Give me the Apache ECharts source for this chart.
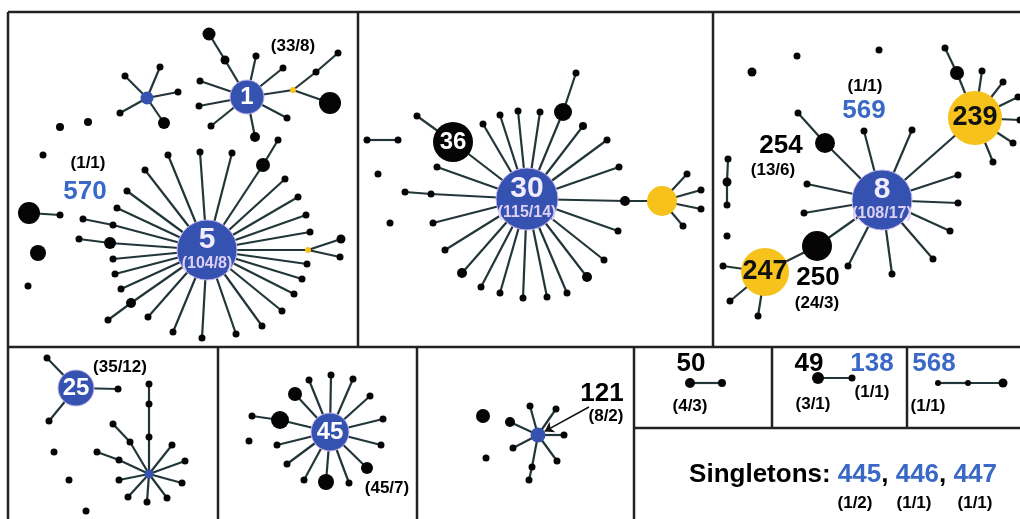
<!DOCTYPE html>
<html>
<head>
<meta charset="utf-8">
<script src="https://cdn.jsdelivr.net/npm/echarts@6/dist/echarts.min.js"></script>
<style>
  html, body { margin: 0; padding: 0; background: #fff; }
  #main { width: 1020px; height: 519px; }
</style>
</head>
<body>
<div id="main"></div>
<script>
// node = [x, y, diameter, colour, label, sublabel]; colour k=black b=blue y=yellow
// a path goes outward from the star centre, node by node

// ---- panel 1 (ST 1 / ST 5)
const hub1 = [247, 97, 34, 'b', '1'];
const hub1Paths = [
  [[225, 60, 9], [209, 34, 13]], [[256, 56, 7]], [[283, 68, 7]], [[293, 90, 6, 'y']],
  [[287, 118, 7]], [[255, 137, 10]], [[211, 126, 7]], [[199, 106, 7]], [[200, 81, 7]]
];
const yellow1 = [293, 90, 6, 'y'];
const yellow1Paths = [[[316, 72, 7], [338, 53, 7]], [[330, 103, 22]]];
const smallHubA = [147, 98, 13, 'b'];
const smallHubAPaths = [[[125, 76, 7]], [[160, 67, 7]], [[178, 92, 7]], [[164, 123, 12]], [[120, 113, 7]]];
const hub5 = [207, 250, 60, 'b', '5', '(104/8)'];
const hub5Paths = [
  [[127, 191, 7]], [[145, 170, 7]], [[168, 155, 7]], [[200, 152, 7]], [[232, 153, 7]],
  [[263, 165, 14], [278, 140, 7]], [[285, 179, 7]], [[298, 197, 7]], [[306, 215, 7]], [[310, 232, 7]],
  [[308, 250, 6, 'y']], [[307, 264, 7]], [[302, 279, 7]], [[294, 294, 7]], [[282, 311, 7]],
  [[262, 326, 7]], [[236, 334, 7]], [[202, 338, 7]], [[173, 332, 7]], [[148, 317, 7]],
  [[131, 303, 10], [108, 320, 7]], [[121, 289, 7]], [[115, 274, 7]], [[113, 259, 7]],
  [[110, 243, 12], [79, 239, 7]], [[113, 225, 7], [83, 219, 7]], [[117, 208, 7]]
];
const yellow5 = [308, 250, 6, 'y'];
const yellow5Paths = [[[341, 239, 9]], [[340, 257, 7]]];
const pairP1 = [29, 213, 22];
const pairP1Paths = [[[60, 215, 7]]];
const loneP1 = [[60, 127, 8], [88, 122, 8], [43, 155, 7], [38, 253, 16], [28, 286, 7]];

// ---- panel 2 (ST 30)
const hub30 = [527, 199, 62, 'b', '30', '(115/14)'];
const hub30Paths = [
  [[453, 142, 40, 'k', '36'], [417, 116, 7]], [[483, 124, 7]], [[500, 115, 7]], [[518, 111, 7]],
  [[540, 112, 7]], [[563, 112, 18], [576, 73, 7]], [[583, 126, 8]], [[607, 140, 7]], [[619, 167, 7]],
  [[625, 201, 10], [662, 201, 30, 'y']], [[618, 231, 7]], [[604, 260, 7]], [[587, 277, 10]],
  [[567, 293, 7]], [[547, 297, 7]], [[523, 298, 7]], [[500, 293, 7]], [[481, 287, 7]],
  [[462, 273, 10]], [[445, 250, 7]], [[433, 223, 7]], [[431, 194, 7], [405, 192, 7]], [[437, 167, 7]]
];
const yellow30 = [662, 201, 30, 'y'];
const yellow30Paths = [[[687, 174, 7]], [[701, 190, 7]], [[701, 209, 7]], [[683, 226, 7]]];
const pairP2 = [367, 140, 7];
const pairP2Paths = [[[398, 140, 7]]];
const loneP2 = [[378, 174, 7], [390, 223, 7]];

// ---- panel 3 (ST 8)
const hub8 = [882, 200, 60, 'b', '8', '(108/17)'];
const hub8Paths = [
  [[817, 246, 30], [765, 272, 48, 'y', '247']], [[825, 143, 20], [798, 113, 7]], [[864, 131, 7]],
  [[912, 130, 7]], [[975, 118, 54, 'y', '239']], [[958, 175, 7]], [[958, 203, 7]], [[950, 231, 7]],
  [[933, 259, 7]], [[892, 274, 7]], [[848, 266, 7]], [[807, 184, 7]], [[804, 213, 7]]
];
const yellow239 = [975, 118, 54, 'y', '239'];
const yellow239Paths = [
  [[957, 73, 14], [945, 48, 7]], [[982, 71, 7]], [[1003, 82, 7]], [[1018, 97, 7]],
  [[1020, 120, 7]], [[1013, 143, 7]], [[993, 162, 7]]
];
const yellow247 = [765, 272, 48, 'y', '247'];
const yellow247Paths = [[[723, 266, 7]], [[730, 301, 7]], [[758, 316, 7]]];
const chainP3 = [728, 159, 7];
const chainP3Paths = [[[727, 182, 9], [727, 205, 7]]];
const loneP3 = [[752, 72, 9], [797, 56, 7], [879, 50, 7], [727, 236, 7]];

// ---- bottom row
const hub25 = [76, 388, 36, 'b', '25'];
const hub25Paths = [[[47, 358, 7]], [[118, 389, 7]], [[49, 421, 7]]];
const smallHubB = [149, 474, 9, 'b'];
const smallHubBPaths = [
  [[149, 437, 7], [149, 404, 7], [149, 384, 7]], [[130, 442, 7], [113, 424, 7]],
  [[119, 460, 7], [97, 452, 7]], [[172, 445, 7]], [[185, 461, 7]], [[182, 483, 7]],
  [[167, 498, 7]], [[147, 502, 7]], [[128, 497, 7]], [[119, 480, 7]]
];
const loneB1 = [[54, 452, 7], [69, 480, 7], [86, 511, 7]];

const hub45 = [330, 432, 38, 'b', '45'];
const hub45Paths = [
  [[280, 420, 18], [252, 416, 7]], [[295, 394, 14]], [[309, 380, 7]], [[331, 375, 7]],
  [[353, 379, 7]], [[370, 396, 7]], [[383, 419, 7]], [[381, 445, 7]], [[367, 468, 12]],
  [[349, 483, 7]], [[326, 482, 16]], [[304, 480, 7]], [[287, 464, 7]], [[277, 445, 7]]
];
const loneB2 = [[249, 441, 7]];

const hub121 = [538, 435, 15, 'b'];
const hub121Paths = [
  [[530, 406, 7]], [[556, 409, 7]], [[564, 435, 7]], [[557, 461, 7]],
  [[532, 467, 7], [529, 480, 7]], [[513, 448, 7]], [[510, 422, 10]]
];
const loneB3 = [[483, 416, 14], [486, 458, 7]];
const arrow121 = [[589, 407, 0], [538, 435]];

const pair50 = [690, 383, 10];
const pair50Paths = [[[722, 383, 8]]];
const pair49 = [818, 378, 12];
const pair49Paths = [[[852, 378, 7]]];
const chain568 = [938, 383, 6];
const chain568Paths = [[[968, 383, 6], [1003, 383, 9]]];

// ---- text: [text, x, y, kind]
const notes = [
  ['(33/8)', 293, 46, 'sub'], ['(1/1)', 88, 163, 'sub'], ['570', 85, 192, 'blue'],
  ['254', 781, 146, 'num'], ['(13/6)', 773, 170, 'sub'], ['(1/1)', 865, 86, 'sub'],
  ['569', 864, 111, 'blue'], ['250', 818, 278, 'num'], ['(24/3)', 817, 303, 'sub'],
  ['(35/12)', 120, 367, 'sub'], ['(45/7)', 387, 488, 'sub'], ['121', 602, 394, 'num'],
  ['(8/2)', 606, 416, 'sub'], ['50', 691, 364, 'num'], ['(4/3)', 690, 406, 'sub'],
  ['49', 809, 364, 'num'], ['138', 872, 364, 'blue'], ['(3/1)', 813, 404, 'sub'],
  ['(1/1)', 872, 392, 'sub'], ['568', 934, 364, 'blue'], ['(1/1)', 928, 406, 'sub'],
  ['(1/2)', 855, 503, 'sub'], ['(1/1)', 914, 503, 'sub'], ['(1/1)', 975, 503, 'sub']
];
const singletons = ['445', '446', '447'];

const C = { b: '#3552b0', k: '#050505', y: '#f7c21b' };
const FONT = 'Liberation Sans, Arial, sans-serif';
const nodes = [], links = [], index = {};

function hubLabel(t, s, c, d) {
  const fg = c === 'y' ? '#111' : '#fff';
  if (s) {
    return {
      show: true, position: 'inside', fontFamily: FONT,
      formatter: '{a|' + t + '}\n{s|' + s + '}',
      rich: {
        a: { color: '#f2ecff', fontSize: 30, fontWeight: 'bold', fontFamily: FONT, lineHeight: 28 },
        s: { color: '#ddd0f4', fontSize: 16, fontWeight: 'bold', fontFamily: FONT, lineHeight: 20 }
      }
    };
  }
  return {
    show: true, position: 'inside', formatter: t, color: fg, fontFamily: FONT,
    fontWeight: 'bold', fontSize: d > 45 ? 27 : 24
  };
}

function node(p) {
  const key = p[0] + ',' + p[1];
  if (index[key] != null) return index[key];
  const [x, y, d = 7, c = 'k', t, s] = p;
  const item = { value: [x, y], symbolSize: d, itemStyle: { color: C[c] } };
  if (c === 'b' && d > 20) { item.itemStyle.borderColor = '#c9b6ee'; item.itemStyle.borderWidth = 1; }
  if (t) item.label = hubLabel(t, s, c, d);
  index[key] = nodes.length;
  nodes.push(item);
  return index[key];
}

function star(center, paths) {
  const c = node(center);
  (paths || []).forEach(path => {
    let prev = c;
    path.forEach(p => {
      const n = node(p);
      links.push({ source: prev, target: n });
      prev = n;
    });
  });
}

star(hub1, hub1Paths); star(yellow1, yellow1Paths); star(smallHubA, smallHubAPaths);
star(hub5, hub5Paths); star(yellow5, yellow5Paths); star(pairP1, pairP1Paths);
loneP1.forEach(p => node(p));
star(hub30, hub30Paths); star(yellow30, yellow30Paths); star(pairP2, pairP2Paths);
loneP2.forEach(p => node(p));
star(hub8, hub8Paths); star(yellow239, yellow239Paths); star(yellow247, yellow247Paths);
star(chainP3, chainP3Paths); loneP3.forEach(p => node(p));
star(hub25, hub25Paths); star(smallHubB, smallHubBPaths); loneB1.forEach(p => node(p));
star(hub45, hub45Paths); loneB2.forEach(p => node(p));
star(hub121, hub121Paths); loneB3.forEach(p => node(p));
star(pair50, pair50Paths); star(pair49, pair49Paths); star(chain568, chain568Paths);

// arrow pointing at ST 121
const a0 = node(arrow121[0]), a1 = node(arrow121[1]);
links.push({ source: a0, target: a1, symbol: ['none', 'arrow'], symbolSize: [0, 9],
  lineStyle: { width: 1.5, color: '#111' } });

const noteStyle = {
  sub: { fontSize: 17, color: '#000' },
  num: { fontSize: 26, color: '#000' },
  blue: { fontSize: 26, color: '#3a68c6' }
};
const noteData = notes.map(n => ({
  value: [n[1], n[2]],
  label: Object.assign({ formatter: n[0] }, noteStyle[n[3]])
}));
noteData.push({
  value: [843, 475],
  label: {
    formatter: '{k|Singletons: }' + singletons.map(s => '{b|' + s + '}').join('{k|, }'),
    rich: {
      k: { fontSize: 26, fontWeight: 'bold', color: '#000', fontFamily: FONT },
      b: { fontSize: 26, fontWeight: 'bold', color: '#3a68c6', fontFamily: FONT }
    }
  }
});

// panel frames
const frameLines = [
  [8, 12, 1020, 12], [8, 12, 8, 519], [8, 347, 1020, 347],
  [358, 12, 358, 347], [713, 12, 713, 347],
  [218, 347, 218, 519], [417, 347, 417, 519], [634, 347, 634, 519],
  [772, 347, 772, 428], [907, 347, 907, 428], [634, 428, 1020, 428]
];

const chart = echarts.init(document.getElementById('main'));
chart.setOption({
  animation: false,
  backgroundColor: '#fff',
  grid: { left: 0, right: 0, top: 0, bottom: 0 },
  xAxis: { type: 'value', min: 0, max: 1020, show: false },
  yAxis: { type: 'value', min: 0, max: 519, inverse: true, show: false },
  graphic: frameLines.map(l => ({
    type: 'line', z: 1,
    shape: { x1: l[0], y1: l[1], x2: l[2], y2: l[3] },
    style: { stroke: '#222', lineWidth: 2.5 }
  })),
  series: [
    {
      type: 'graph',
      coordinateSystem: 'cartesian2d',
      layout: 'none',
      z: 3,
      data: nodes,
      links: links,
      symbol: 'circle',
      edgeSymbol: ['none', 'none'],
      lineStyle: { color: '#22363a', width: 2.2, opacity: 1 },
      emphasis: { disabled: true }
    },
    {
      type: 'scatter',
      z: 4,
      symbolSize: 0,
      data: noteData,
      itemStyle: { opacity: 1 },
      label: { show: true, position: 'inside', fontWeight: 'bold', fontFamily: FONT, opacity: 1 },
      emphasis: { disabled: true }
    }
  ]
});
</script>
</body>
</html>
